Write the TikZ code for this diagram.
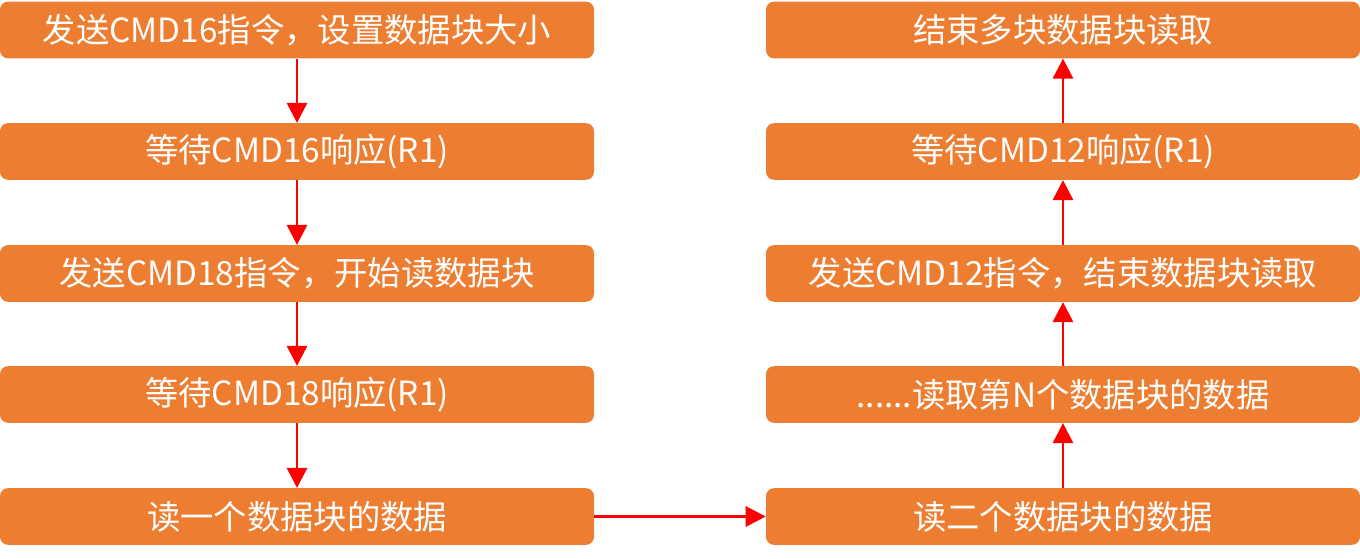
\documentclass[tikz,border=0pt]{standalone}
\usepackage{fontspec}
\setmainfont{Noto Sans CJK SC}
\usetikzlibrary{arrows.meta}
\definecolor{boxorange}{rgb}{0.929,0.490,0.192}
\definecolor{arrred}{rgb}{1.0,0.0,0.0}
\tikzset{
  stepbox/.style={rectangle,rounded corners=6pt,fill=boxorange,text=white,
    minimum width=445.5pt,minimum height=42.5pt,inner sep=0pt,
    font=\fontsize{25pt}{30pt}\selectfont},
  flow/.style={draw=arrred,line width=2.2pt,-{Triangle[length=15pt,width=15pt]}}
}
\begin{document}
\begin{tikzpicture}[line cap=butt,line join=round,x=0.75pt,y=0.75pt]
\useasboundingbox (0,0) rectangle (1360,558);
% left column
\node[stepbox] (c16) at (297,528) {发送CMD16指令，设置数据块大小};
\node[stepbox] (r16) at (297,406.5) {等待CMD16响应(R1)};
\node[stepbox] (c18) at (297,284.5) {发送CMD18指令，开始读数据块};
\node[stepbox] (r18) at (297,163.5) {等待CMD18响应(R1)};
\node[stepbox] (rd1) at (297,41.5) {读一个数据块的数据};
% right column
\node[stepbox] (rd2) at (1063,41.5) {读二个数据块的数据};
\node[stepbox] (rdn) at (1063,163.5) {......读取第N个数据块的数据};
\node[stepbox] (c12) at (1063,284.5) {发送CMD12指令，结束数据块读取};
\node[stepbox] (r12) at (1063,406.5) {等待CMD12响应(R1)};
\node[stepbox] (fin) at (1063,528) {结束多块数据块读取};
% connectors
\draw[flow] (c16) -- (r16);
\draw[flow] (r16) -- (c18);
\draw[flow] (c18) -- (r18);
\draw[flow] (r18) -- (rd1);
\draw[flow] (rd1) -- (rd2);
\draw[flow] (rd2) -- (rdn);
\draw[flow] (rdn) -- (c12);
\draw[flow] (c12) -- (r12);
\draw[flow] (r12) -- (fin);
\end{tikzpicture}
\end{document}
